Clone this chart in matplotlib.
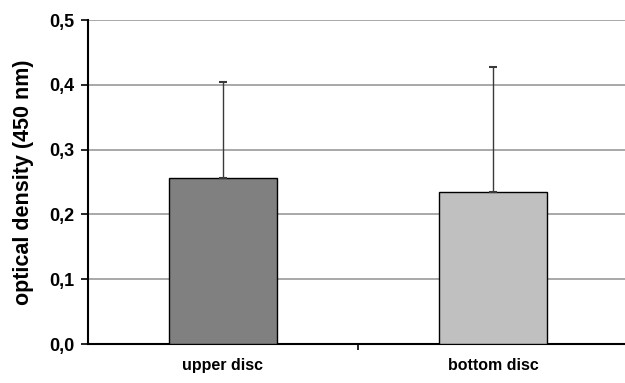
import matplotlib.pyplot as plt
from matplotlib.ticker import FuncFormatter

plt.rcParams['font.family'] = ['Liberation Sans', 'DejaVu Sans']

categories = ['upper disc', 'bottom disc']
means = [0.256, 0.235]
sd = [0.148, 0.193]
colors = ['#808080', '#c0c0c0']

fig = plt.figure(figsize=(6.25, 3.83), dpi=100)
ax = fig.add_axes([88 / 625, 39 / 383, 540 / 625, 324 / 383])

x = range(len(categories))
ax.bar(x, means, width=0.4, color=colors, edgecolor='black', linewidth=1.0, zorder=3)
ax.errorbar(x, means, yerr=[[0, 0], sd], fmt='none', ecolor='#3a3a3a',
            elinewidth=1.0, capsize=3, capthick=1.5, zorder=4)

ax.set_xlim(-0.5, 1.5)
ax.set_ylim(0, 0.5)
ax.set_yticks([0, 0.1, 0.2, 0.3, 0.4, 0.5])
ax.yaxis.set_major_formatter(FuncFormatter(lambda v, p: f'{v:.1f}'.replace('.', ',')))
ax.set_xticks(list(x))
ax.set_xticklabels(categories, fontsize=11.5, fontweight='bold')
ax.tick_params(axis='x', length=0, pad=10)
ax.set_xticks([0.5, 1.5], minor=True)
ax.tick_params(axis='x', which='minor', length=4, width=1.2, direction='out')
ax.tick_params(axis='y', labelsize=13, length=5, width=1.2, pad=5)
for lbl in ax.get_yticklabels():
    lbl.set_fontweight('bold')

ax.grid(axis='y', color='#999999', linewidth=1.2, zorder=0)
for s in ['top', 'right']:
    ax.spines[s].set_visible(False)
ax.spines['left'].set_linewidth(1.5)
ax.spines['bottom'].set_linewidth(1.5)

fig.text(24 / 625, 1 - 182.5 / 383, 'optical density (450 nm)', rotation=90,
         ha='center', va='center', fontsize=15.5, fontweight='bold')

fig.savefig('out.png', dpi=100)
